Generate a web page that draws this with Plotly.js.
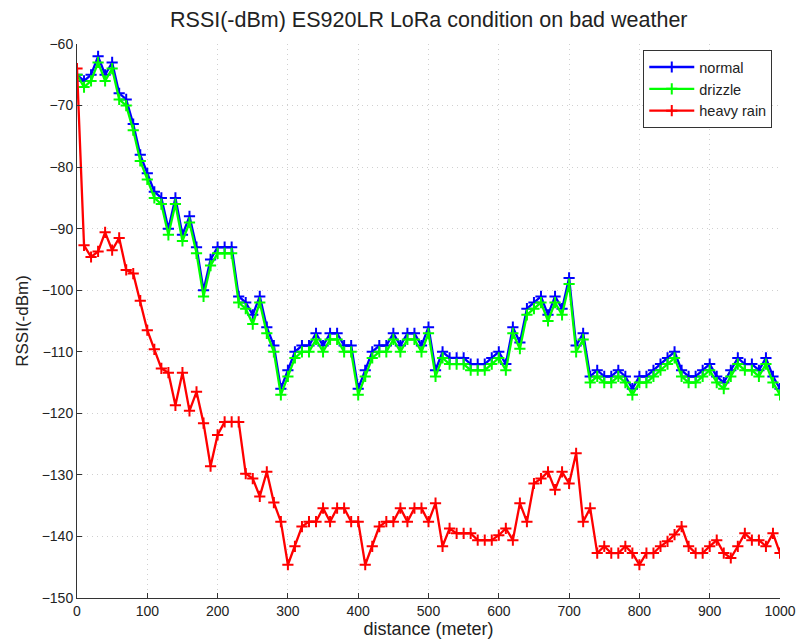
<!DOCTYPE html>
<html>
<head>
<meta charset="utf-8">
<script src="https://cdn.plot.ly/plotly-3.0.1.min.js"></script>
<style>html,body{margin:0;padding:0;background:#fff;}#chart{width:797px;height:641px;}</style>
</head>
<body>
<div id="chart"></div>
<script>
const distance = [0,10,20,30,40,50,60,70,80,90,100,110,120,130,140,150,160,170,180,190,200,
  210,220,230,240,250,260,270,280,290,300,310,320,330,340,350,360,370,380,390,400,
  410,420,430,440,450,460,470,480,490,500,510,520,530,540,550,560,570,580,590,600,
  610,620,630,640,650,660,670,680,690,700,710,720,730,740,750,760,770,780,790,800,
  810,820,830,840,850,860,870,880,890,900,910,920,930,940,950,960,970,980,990,1000];

const normal = [-65,-66,-65,-62,-65,-63,-68,-69,-73,-78,-81,-84,-85,-90,-85,-91,-88,-93,-100,-95,-93,
  -93,-93,-101,-102,-104,-101,-106,-109,-116,-113,-110,-109,-109,-107,-109,-107,-107,-109,-109,-116,
  -113,-110,-109,-109,-107,-109,-107,-107,-109,-106,-113,-110,-111,-111,-111,-112,-112,-112,-111,-110,
  -112,-106,-108.5,-103,-102,-101,-104,-101,-103,-98,-109,-107,-114,-113,-114,-114,-113,-114,-116,-114,
  -114,-113,-112,-111,-110,-113,-114,-114,-113,-112,-114,-115,-113,-111,-112,-112,-113,-111,-114,-116];

const drizzle = [-65,-67,-66,-63,-66,-64,-69,-70,-74,-79,-82,-85,-86,-91,-86,-92,-89,-94,-101,-96,-94,
  -94,-94,-102,-103,-105.5,-102,-107,-110,-117,-114,-111,-110,-110,-108,-110,-108,-108,-110,-110,-117,
  -114,-111,-110,-110,-108,-110,-108,-108,-110,-107,-114,-111,-112,-112,-112,-113,-113,-113,-112,-111,
  -113,-107,-109.5,-104,-103,-102,-105,-102,-104,-99,-110,-108,-115,-114,-115,-115,-114,-115,-117,-115,
  -115,-114,-113,-112,-111,-114,-115,-115,-114,-113,-115,-116,-114,-112,-113,-113,-114,-112,-115,-117];

const heavyRain = [-64,-92.7,-94.6,-93.7,-90.6,-93.5,-91.5,-96.7,-97.3,-101.7,-106.5,-109.6,-112.7,-113.4,-118.7,-113.4,-119.6,-116.5,-121.6,-128.6,-123.5,
  -121.4,-121.4,-121.4,-129.8,-130.6,-133.5,-129.5,-134.5,-137.6,-144.6,-141.6,-138.4,-137.6,-137.6,-135.4,-137.6,-135.4,-135.4,-137.6,-137.6,
  -144.6,-141.6,-138.4,-137.6,-137.6,-135.4,-137.6,-135.4,-135.4,-137.6,-134.6,-141.6,-138.7,-139.5,-139.5,-139.5,-140.6,-140.6,-140.6,-139.8,
  -138.7,-140.6,-134.6,-137.6,-131.4,-130.6,-129.5,-132.4,-129.5,-131.4,-126.5,-137.6,-135.4,-142.7,-141.6,-142.7,-142.7,-141.6,-142.7,-144.6,
  -142.7,-142.7,-141.6,-140.8,-139.7,-138.4,-141.6,-142.7,-142.7,-141.6,-140.6,-142.7,-143.5,-141.6,-139.5,-140.6,-140.6,-141.6,-139.5,-142.7];

const seriesNames = ['normal', 'drizzle', 'heavy rain'];
const seriesColors = ['#0000ff', '#00ff00', '#ff0000'];
const seriesValues = [normal, drizzle, heavyRain];

const traces = seriesValues.map((vals, i) => ({
  x: distance,
  y: vals,
  name: seriesNames[i],
  type: 'scatter',
  mode: 'lines+markers',
  line: {color: seriesColors[i], width: 2.3},
  marker: {symbol: 'cross-thin', size: 8, color: seriesColors[i], line: {width: 2, color: seriesColors[i]}}
}));

const font = 'Liberation Sans, Arial, sans-serif';
const layout = {
  width: 797, height: 641,
  margin: {l: 77, r: 17, t: 44, b: 43},
  paper_bgcolor: '#fff', plot_bgcolor: '#fff',
  font: {family: font, color: '#222', size: 14},
  title: {text: 'RSSI(-dBm) ES920LR LoRa condition on bad weather', font: {family: font, size: 21.5, color: '#222'},
    x: 0.538, xanchor: 'center', y: 0.97, yanchor: 'middle'},
  showlegend: true,
  legend: {x: 0.989, xanchor: 'right', y: 0.989, yanchor: 'top', bgcolor: '#fff', bordercolor: '#333', borderwidth: 1,
    font: {family: font, size: 14.5, color: '#222'}, tracegroupgap: 0, itemwidth: 45},
  xaxis: {
    range: [0, 1000], dtick: 100, tick0: 0, ticks: 'inside', ticklen: 5, tickcolor: '#333',
    showline: true, linecolor: '#333', linewidth: 1, mirror: false,
    showgrid: true, gridcolor: '#d0d0d0', griddash: '1px,4px', gridwidth: 1, zeroline: false,
    tickfont: {family: font, size: 14, color: '#222'},
    title: {text: 'distance (meter)', font: {family: font, size: 18, color: '#222'}, standoff: 2}
  },
  yaxis: {
    range: [-150, -60], dtick: 10, tick0: -150, ticks: 'inside', ticklen: 5, tickcolor: '#333',
    showline: true, linecolor: '#333', linewidth: 1, mirror: false,
    showgrid: true, gridcolor: '#d0d0d0', griddash: '1px,4px', gridwidth: 1, zeroline: false,
    tickfont: {family: font, size: 14, color: '#222'},
    title: {text: 'RSSI(-dBm)', font: {family: font, size: 17, color: '#222'}, standoff: 8}
  }
};

Plotly.newPlot('chart', traces, layout, {displayModeBar: false, staticPlot: true});
</script>
</body>
</html>
